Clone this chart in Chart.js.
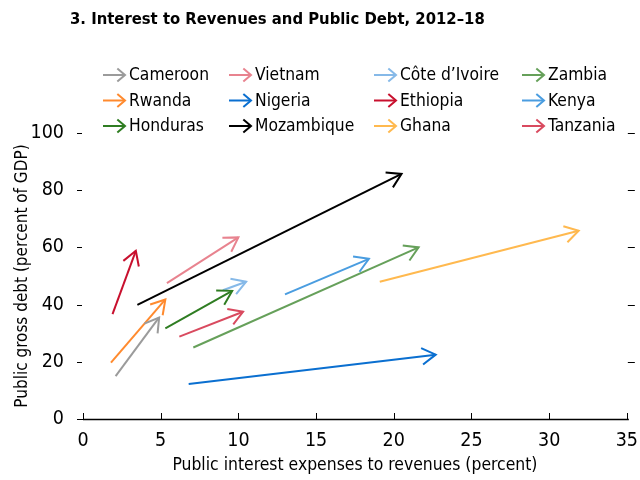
<!DOCTYPE html>
<html><head><meta charset="utf-8">
<script src="https://cdn.jsdelivr.net/npm/chart.js@4/dist/chart.umd.min.js"></script>
<style>html,body{margin:0;padding:0;background:#fff}#wrap{width:640px;height:480px;position:relative}</style>
</head><body><div id="wrap"><canvas id="c"></canvas></div>
<script>
const titleText = "3. Interest to Revenues and Public Debt, 2012\u201318";
const xTitle = "Public interest expenses to revenues (percent)";
const yTitle = "Public gross debt (percent of GDP)";
const countries = ["Cameroon","Vietnam","C\u00f4te d\u2019Ivoire","Zambia","Rwanda","Nigeria","Ethiopia","Kenya","Honduras","Mozambique","Ghana","Tanzania"];
const startX = [2.1, 5.4, 9.0, 7.1, 1.8, 6.8, 1.9, 13.0, 5.3, 3.5, 19.1, 6.2];
const startY = [15.0, 47.5, 45.0, 25.0, 19.7, 12.2, 36.7, 43.6, 31.7, 39.9, 48.0, 28.8];
const endX   = [4.9, 10.0, 10.5, 21.6, 5.3, 22.7, 3.4, 18.4, 9.6, 20.5, 31.9, 10.3];
const endY   = [35.5, 63.5, 48.0, 60.0, 41.8, 22.5, 58.8, 56.0, 44.8, 85.7, 65.8, 37.5];
const colors = ["#9b9b9b","#e8838f","#86b9e8","#66a05a","#ff8a2e","#0a6fd0","#c8102e","#4a9de0","#2f7d22","#000000","#ffb94f","#d94a5f"];
const xTicks = [0,5,10,15,20,25,30,35];
const yTicks = [0,20,40,60,80,100];

const FONT = "'DejaVu Sans Condensed','Liberation Sans Narrow','Arial Narrow',sans-serif";

const datasets = countries.map((c, i) => ({
  label: c,
  data: [{x: startX[i], y: startY[i]}, {x: endX[i], y: endY[i]}],
  borderColor: colors[i],
  backgroundColor: colors[i],
  borderWidth: 2,
  showLine: true,
  pointRadius: 0,
  pointHoverRadius: 0
}));

function drawHead(ctx, x0, y0, x1, y1, L, a) {
  const ang = Math.atan2(y1 - y0, x1 - x0);
  ctx.beginPath();
  ctx.moveTo(x1 - L * Math.cos(ang - a), y1 - L * Math.sin(ang - a));
  ctx.lineTo(x1, y1);
  ctx.lineTo(x1 - L * Math.cos(ang + a), y1 - L * Math.sin(ang + a));
  ctx.stroke();
}

const decorPlugin = {
  id: 'decor',
  afterDatasetsDraw(chart) {
    const ctx = chart.ctx;
    ctx.save();
    ctx.lineCap = 'butt'; ctx.lineJoin = 'miter'; ctx.lineWidth = 2;
    chart.data.datasets.forEach((ds, i) => {
      const meta = chart.getDatasetMeta(i);
      const p0 = meta.data[0], p1 = meta.data[1];
      ctx.strokeStyle = ds.borderColor;
      drawHead(ctx, p0.x, p0.y, p1.x, p1.y, 16, 31 * Math.PI / 180);
    });
    ctx.restore();
  },
  afterDraw(chart) {
    const ctx = chart.ctx;
    const xs = chart.scales.x, ys = chart.scales.y;
    const ca = chart.chartArea;
    ctx.save();
    // title
    ctx.fillStyle = '#000';
    ctx.font = "bold 16.5px " + FONT;
    ctx.textBaseline = 'middle'; ctx.textAlign = 'left';
    ctx.fillText(titleText, 70, 20);
    // axis line
    ctx.strokeStyle = '#000'; ctx.lineWidth = 1.5;
    ctx.beginPath(); ctx.moveTo(ca.left, ca.bottom + 0.5); ctx.lineTo(ca.right + 2, ca.bottom + 0.5); ctx.stroke();
    ctx.lineWidth = 1;
    // x ticks (inward)
    xTicks.forEach(v => {
      const px = Math.round(xs.getPixelForValue(v)) + 0.5;
      ctx.beginPath(); ctx.moveTo(px, ca.bottom); ctx.lineTo(px, ca.bottom - 6); ctx.stroke();
    });
    // y ticks left and right
    yTicks.forEach(v => {
      const py = Math.round(ys.getPixelForValue(v)) + 0.5;
      if (v > 0) {
        ctx.beginPath(); ctx.moveTo(ca.left - 6, py); ctx.lineTo(ca.left - 1, py); ctx.stroke();
        ctx.beginPath(); ctx.moveTo(ca.right + 1, py); ctx.lineTo(ca.right + 8, py); ctx.stroke();
      } else {
        ctx.beginPath(); ctx.moveTo(ca.left - 6, py); ctx.lineTo(ca.left, py); ctx.stroke();
      }
    });
    // legend
    const colX = [103, 229, 374, 522];
    const rowY = [75, 100.5, 126];
    ctx.font = "17.3px " + FONT;
    ctx.textAlign = 'left'; ctx.textBaseline = 'middle';
    countries.forEach((c, i) => {
      const col = i % 4, row = Math.floor(i / 4);
      const x = colX[col], y = rowY[row];
      ctx.strokeStyle = colors[i]; ctx.lineWidth = 2;
      ctx.beginPath(); ctx.moveTo(x, y); ctx.lineTo(x + 22, y); ctx.stroke();
      drawHead(ctx, x, y, x + 22, y, 10, 40 * Math.PI / 180);
      ctx.fillStyle = '#000';
      ctx.fillText(c, x + 26, y + 1);
    });
    ctx.restore();
  }
};

new Chart(document.getElementById('c'), {
  type: 'scatter',
  data: { datasets },
  options: {
    responsive: true,
    maintainAspectRatio: false,
    animation: false,
    events: [],
    layout: { padding: { top: 133, right: 11, left: 0, bottom: 0 } },
    plugins: { legend: { display: false }, title: { display: false }, tooltip: { enabled: false } },
    scales: {
      x: {
        type: 'linear', min: 0, max: 35,
        afterFit(s) { s.height = 480 - 419; },
        afterBuildTicks(s) { s.ticks = xTicks.map(v => ({ value: v })); },
        grid: { display: false },
        border: { display: false },
        ticks: { color: '#000', font: { family: FONT, size: 19.5 }, padding: 2 },
        title: { display: true, text: xTitle, color: '#000', font: { family: FONT, size: 17.4 }, padding: { top: 2, bottom: 4 } }
      },
      y: {
        type: 'linear', min: 0, max: 100,
        afterFit(s) { s.width = 83; },
        afterBuildTicks(s) { s.ticks = yTicks.map(v => ({ value: v })); },
        grid: { display: false },
        border: { display: false },
        ticks: { color: '#000', font: { family: FONT, size: 19.5 }, padding: 11 },
        title: { display: true, text: yTitle, color: '#000', font: { family: FONT, size: 17 }, padding: { top: 12, bottom: 4 } }
      }
    }
  },
  plugins: [decorPlugin]
});
</script>
</body></html>
